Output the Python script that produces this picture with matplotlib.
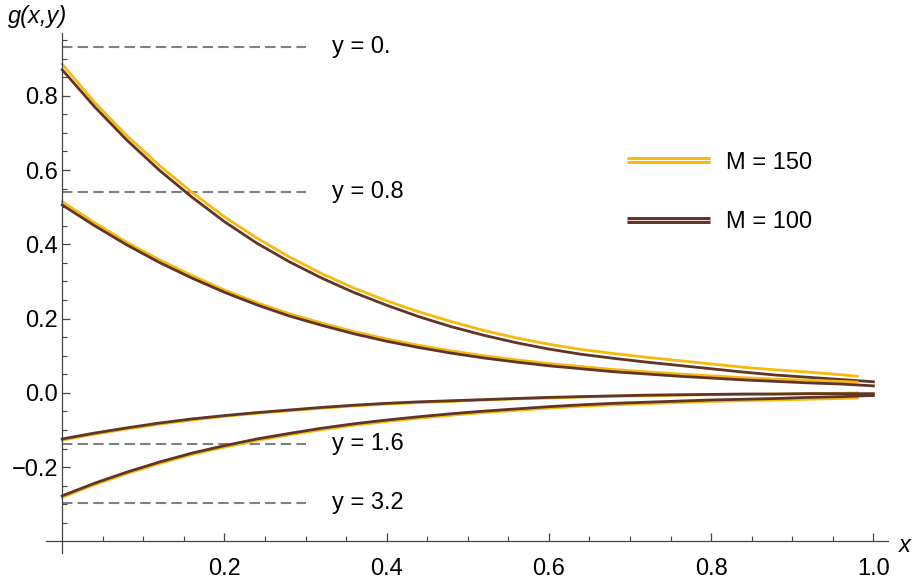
import numpy as np
import matplotlib.pyplot as plt
from matplotlib.lines import Line2D
from matplotlib.legend_handler import HandlerTuple
from matplotlib.ticker import FixedLocator

plt.rcParams['font.family'] = ['Liberation Sans', 'DejaVu Sans']

# x grids (M=150 runs stop a little before 1.0)
x150 = [0.00, 0.04, 0.08, 0.12, 0.16, 0.20, 0.24, 0.28, 0.32, 0.36, 0.40, 0.44, 0.48,
        0.52, 0.56, 0.60, 0.64, 0.68, 0.72, 0.76, 0.80, 0.84, 0.88, 0.92, 0.96, 0.98]
x100 = [0.00, 0.04, 0.08, 0.12, 0.16, 0.20, 0.24, 0.28, 0.32, 0.36, 0.40, 0.44, 0.48,
        0.52, 0.56, 0.60, 0.64, 0.68, 0.72, 0.76, 0.80, 0.84, 0.88, 0.92, 0.96, 1.00]

# y = 0.
a150 = [0.885, 0.782, 0.692, 0.612, 0.540, 0.474, 0.417, 0.366, 0.321, 0.282, 0.248, 0.218, 0.192,
        0.168, 0.148, 0.131, 0.117, 0.106, 0.096, 0.087, 0.078, 0.069, 0.062, 0.056, 0.049, 0.045]
a100 = [0.870, 0.770, 0.680, 0.599, 0.527, 0.461, 0.403, 0.353, 0.309, 0.270, 0.236, 0.205, 0.178,
        0.155, 0.135, 0.118, 0.104, 0.093, 0.083, 0.074, 0.065, 0.056, 0.048, 0.042, 0.036, 0.030]
# y = 0.8
b150 = [0.515, 0.458, 0.405, 0.358, 0.316, 0.277, 0.243, 0.213, 0.188, 0.165, 0.145, 0.128, 0.113,
        0.100, 0.089, 0.079, 0.071, 0.063, 0.057, 0.051, 0.046, 0.041, 0.037, 0.034, 0.031, 0.029]
b100 = [0.506, 0.450, 0.398, 0.351, 0.309, 0.271, 0.237, 0.207, 0.182, 0.159, 0.139, 0.122, 0.107,
        0.094, 0.083, 0.073, 0.065, 0.057, 0.051, 0.045, 0.040, 0.035, 0.031, 0.027, 0.024, 0.019]
# y = 1.6
c150 = [-0.127, -0.111, -0.097, -0.084, -0.073, -0.063, -0.055, -0.048, -0.041, -0.035, -0.030, -0.026, -0.023,
        -0.019, -0.016, -0.014, -0.011, -0.009, -0.008, -0.006, -0.005, -0.004, -0.003, -0.002, -0.001, 0.000]
c100 = [-0.124, -0.108, -0.094, -0.081, -0.070, -0.061, -0.053, -0.046, -0.039, -0.033, -0.028, -0.024, -0.021,
        -0.018, -0.015, -0.012, -0.010, -0.008, -0.006, -0.005, -0.004, -0.003, -0.003, -0.002, -0.002, -0.002]
# y = 3.2
d150 = [-0.281, -0.247, -0.217, -0.190, -0.166, -0.146, -0.128, -0.113, -0.099, -0.087, -0.077, -0.068, -0.060,
        -0.053, -0.047, -0.041, -0.036, -0.032, -0.029, -0.026, -0.023, -0.021, -0.019, -0.017, -0.015, -0.014]
d100 = [-0.277, -0.243, -0.213, -0.186, -0.162, -0.142, -0.124, -0.109, -0.095, -0.083, -0.073, -0.064, -0.056,
        -0.049, -0.043, -0.037, -0.032, -0.028, -0.025, -0.022, -0.019, -0.017, -0.015, -0.012, -0.010, -0.007]

# dashed reference levels and their labels
ref_levels = [0.931, 0.541, -0.137, -0.296]
ref_labels = ['y = 0.', 'y = 0.8', 'y = 1.6', 'y = 3.2']

orange = '#F9B90C'
brown = '#5E3526'
fs = 17

fig = plt.figure(figsize=(9.13, 5.81), dpi=100)
ax = fig.add_axes([46/913, 1-553/581, 842/913, 520/581])

for yv, lab in zip(ref_levels, ref_labels):
    ax.plot([0, 0.3], [yv, yv], color='#808080', lw=1.5, ls=(0, (5, 2.5)))
    ax.text(0.333, yv, lab, fontsize=fs, va='center', ha='left')

for s150, s100 in [(a150, a100), (b150, b100), (c150, c100), (d150, d100)]:
    ax.plot(x150, s150, color=orange, lw=2.0)
    ax.plot(x100, s100, color=brown, lw=2.0)

ax.set_xlim(-0.02, 1.018)
ax.set_ylim(-0.431, 0.969)

for side in ['top', 'right']:
    ax.spines[side].set_visible(False)
ax.spines['left'].set_position(('data', 0))
ax.spines['bottom'].set_position(('data', -0.40))
for side in ['left', 'bottom']:
    ax.spines[side].set_color('#444444')
    ax.spines[side].set_linewidth(0.9)

ax.xaxis.set_major_locator(FixedLocator([0.2, 0.4, 0.6, 0.8, 1.0]))
ax.xaxis.set_minor_locator(FixedLocator([0.05, 0.1, 0.15, 0.25, 0.3, 0.35, 0.45, 0.5, 0.55,
                                         0.65, 0.7, 0.75, 0.85, 0.9, 0.95]))
ax.set_xticklabels(['0.2', '0.4', '0.6', '0.8', '1.0'])
yt = [-0.2, 0.0, 0.2, 0.4, 0.6, 0.8]
ax.yaxis.set_major_locator(FixedLocator(yt))
ax.set_yticklabels(['\u22120.2', '0.0', '0.2', '0.4', '0.6', '0.8'])
ax.yaxis.set_minor_locator(FixedLocator([v for v in np.arange(-0.35, 0.96, 0.05)
                                         if min(abs(v - t) for t in yt) > 0.01]))
ax.tick_params(which='both', direction='in', color='#444444', labelsize=fs)
ax.tick_params(which='major', length=6, width=0.9)
ax.tick_params(which='minor', length=3.5, width=0.8)
ax.tick_params(axis='x', pad=12)
ax.tick_params(axis='y', pad=3)

fig.text(905/913, 1-545/581, 'x', fontsize=fs, style='italic', ha='center', va='center')
fig.text(8/913, 1-16/581, 'g(x,y)', fontsize=fs, style='italic', ha='left', va='center')

h150 = (Line2D([], [], color=orange, lw=5, solid_capstyle='butt'),
        Line2D([], [], color='white', lw=0.7, solid_capstyle='butt'))
h100 = (Line2D([], [], color=brown, lw=5, solid_capstyle='butt'),
        Line2D([], [], color='#e8dcd8', lw=0.7, solid_capstyle='butt'))
ax.legend([h150, h100], ['M = 150', 'M = 100'],
          handler_map={tuple: HandlerTuple(ndivide=1, pad=0)},
          loc='center left', bbox_to_anchor=(627/913, 1-192.5/581), bbox_transform=fig.transFigure,
          frameon=False, fontsize=fs, handlelength=3.5, handletextpad=0.7, labelspacing=1.6,
          borderpad=0, borderaxespad=0)

fig.savefig('out.png', dpi=100)
